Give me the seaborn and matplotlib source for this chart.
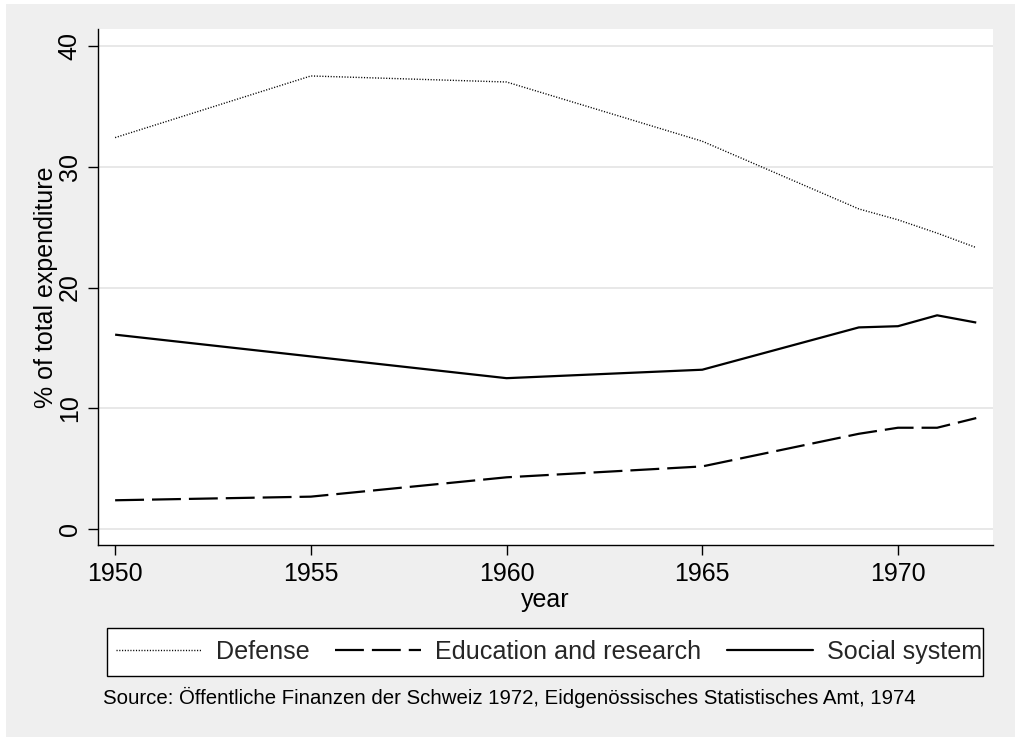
import matplotlib
matplotlib.use("Agg")
import matplotlib.pyplot as plt
from matplotlib.patches import Rectangle
from matplotlib.lines import Line2D
import seaborn as sns
import pandas as pd

# ---- data ----
years = [1950, 1955, 1960, 1965, 1969, 1970, 1971, 1972]
defense = [32.4, 37.5, 37.0, 32.1, 26.5, 25.6, 24.5, 23.3]
education = [2.4, 2.7, 4.3, 5.2, 7.9, 8.4, 8.4, 9.2]
social = [16.1, 14.3, 12.5, 13.2, 16.7, 16.8, 17.7, 17.1]
series_names = ["Defense", "Education and research", "Social system"]
x_ticks = [1950, 1955, 1960, 1965, 1970]
y_ticks = [0, 10, 20, 30, 40]
source_text = "Source: Öffentliche Finanzen der Schweiz 1972, Eidgenössisches Statistisches Amt, 1974"

df = pd.DataFrame({
    "year": years * 3,
    "value": defense + education + social,
    "series": [series_names[0]] * len(years) + [series_names[1]] * len(years) + [series_names[2]] * len(years),
})

sns.set_style("white")
plt.rcParams["font.family"] = ["Liberation Sans", "DejaVu Sans"]

W, H = 1015, 737
fig = plt.figure(figsize=(W / 100, H / 100), dpi=100, facecolor="white")
fig.patches.append(Rectangle((6 / W, 0), 1 - 6 / W, 1 - 4 / H, transform=fig.transFigure,
                             facecolor="#EFEFEF", edgecolor="none", zorder=-10))

left, right, top, bottom = 98.3, 992.7, 29.3, 545.0
ax = fig.add_axes([left / W, 1 - bottom / H, (right - left) / W, (bottom - top) / H])
ax.set_facecolor("white")

styles = {
    "Defense": dict(lw=1.0, dashes=(0.8, 1.2)),
    "Education and research": dict(lw=1.6, dashes=(13, 3.6)),
    "Social system": dict(lw=1.6, dashes=()),
}

for name in series_names:
    sub = df[df["series"] == name]
    sns.lineplot(data=sub, x="year", y="value", ax=ax, color="black",
                 lw=styles[name]["lw"], legend=False, estimator=None)
    line = ax.lines[-1]
    if styles[name]["dashes"]:
        line.set_dashes(styles[name]["dashes"])
    line.set_solid_capstyle("butt")
    line.set_dash_capstyle("butt")

ax.set_xlim(1949.57, 1972.42)
ax.set_ylim(-1.3, 41.36)
ax.set_xticks(x_ticks)
ax.set_yticks(y_ticks)
ax.grid(axis="y", color="#E6E6E6", lw=1.3)
ax.grid(axis="x", visible=False)
ax.set_axisbelow(True)
for s in ["top", "right"]:
    ax.spines[s].set_visible(False)
for s in ["left", "bottom"]:
    ax.spines[s].set_color("black")
    ax.spines[s].set_linewidth(1.0)

ax.tick_params(axis="both", which="major", direction="out", length=7, width=1,
               color="black", labelsize=18, labelcolor="black", left=True, bottom=True)
ax.tick_params(axis="x", pad=5)
ax.tick_params(axis="y", pad=5)
for lab in ax.get_yticklabels():
    lab.set_rotation(90)
    lab.set_va("center")

ax.set_xlabel("year", fontsize=18, color="black", labelpad=2)
ax.set_ylabel("% of total expenditure", fontsize=18, color="black")
ax.yaxis.set_label_coords(-0.045, 0.5)

# legend frame (drawn to the reference box)
lx0, lx1, ly0, ly1 = 106.7, 983.3, 628.3, 676.0
fig.patches.append(Rectangle((lx0 / W, 1 - ly1 / H), (lx1 - lx0) / W, (ly1 - ly0) / H,
                             transform=fig.transFigure, facecolor="white",
                             edgecolor="black", lw=1.0, zorder=1))

handles = []
for name in series_names:
    h = Line2D([0], [0], color="black", lw=styles[name]["lw"])
    if styles[name]["dashes"]:
        h.set_dashes(styles[name]["dashes"])
    handles.append(h)

leg = fig.legend(handles, series_names, loc="center", ncol=3,
                 bbox_to_anchor=(549 / W, 1 - 652 / H), fontsize=18.1,
                 frameon=False, handlelength=3.43, handletextpad=0.56,
                 columnspacing=1.0, borderpad=0.2, borderaxespad=0)
leg.set_zorder(2)

fig.text(103 / W, 1 - 697 / H, source_text, fontsize=14.65, ha="left", va="center", color="black")

fig.savefig("out.png", dpi=100, facecolor=fig.get_facecolor())
